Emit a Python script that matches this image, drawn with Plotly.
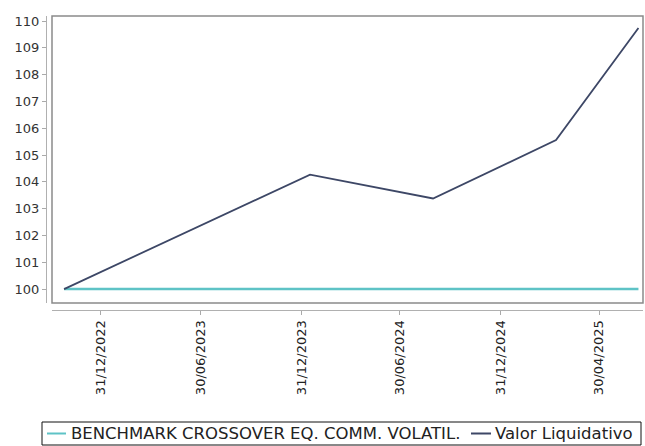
import plotly.graph_objects as go

# Data (x positions are period indices)
period_x = [0.0, 1.0, 2.0, 3.0, 4.0, 4.67]
valor_liquidativo = [100.0, 102.15, 104.27, 103.38, 105.56, 109.74]
benchmark = [100.0, 100.0, 100.0, 100.0, 100.0, 100.0]

tick_pos = [0.30, 1.11, 1.93, 2.73, 3.55, 4.35]
tick_labels = ["31/12/2022", "30/06/2023", "31/12/2023", "30/06/2024", "31/12/2024", "30/04/2025"]
y_ticks = list(range(100, 111))

series_names = ["BENCHMARK CROSSOVER EQ. COMM. VOLATIL.", "Valor Liquidativo"]
series_colors = ["#5ec3c6", "#3d4766"]

FONT = "DejaVu Sans"
W, H = 645, 446
L, R, T, B = 46, 2, 16, 136
plot_w = W - L - R
plot_h = H - T - B


def px_x(p):
    return (p - L) / plot_w


def px_y(p):
    return (H - B - p) / plot_h


fig = go.Figure()
fig.add_trace(go.Scatter(
    x=period_x, y=benchmark, mode="lines", name=series_names[0],
    line=dict(color=series_colors[0], width=2.5), showlegend=False,
))
fig.add_trace(go.Scatter(
    x=period_x, y=valor_liquidativo, mode="lines", name=series_names[1],
    line=dict(color=series_colors[1], width=1.8), showlegend=False,
))

# manual legend (box, sample lines, labels)
leg_top, leg_bot = 422, 445
leg_mid = (leg_top + leg_bot) / 2
shapes = [
    dict(type="rect", xref="x domain", yref="y domain", x0=0, x1=1, y0=0, y1=1,
         line=dict(color="#8a8a8a", width=1.5), layer="above"),
    dict(type="rect", xref="paper", yref="paper",
         x0=px_x(42), x1=px_x(641), y0=px_y(leg_bot), y1=px_y(leg_top),
         line=dict(color="#111111", width=1), fillcolor="white"),
    dict(type="line", xref="paper", yref="paper",
         x0=px_x(47), x1=px_x(66), y0=px_y(leg_mid), y1=px_y(leg_mid),
         line=dict(color=series_colors[0], width=2)),
    dict(type="line", xref="paper", yref="paper",
         x0=px_x(471), x1=px_x(491), y0=px_y(leg_mid), y1=px_y(leg_mid),
         line=dict(color=series_colors[1], width=2)),
]
annotations = [
    dict(text=series_names[0], xref="paper", yref="paper", x=px_x(69), y=px_y(leg_mid),
         xanchor="left", yanchor="middle", showarrow=False,
         font=dict(family=FONT, size=16.5, color="#222222")),
    dict(text=series_names[1], xref="paper", yref="paper", x=px_x(493), y=px_y(leg_mid),
         xanchor="left", yanchor="middle", showarrow=False,
         font=dict(family=FONT, size=16.5, color="#222222")),
]

fig.update_layout(
    width=W, height=H,
    margin=dict(l=L, r=R, t=T, b=B, pad=0, autoexpand=False),
    paper_bgcolor="white", plot_bgcolor="white",
    font=dict(family=FONT, size=13, color="#333333"),
    showlegend=False,
    xaxis=dict(
        domain=[6 / plot_w, 1], anchor="free", position=0, automargin=False,
        range=[-0.098, 4.707], tickvals=tick_pos, ticktext=tick_labels,
        tickangle=-90, ticks="outside", ticklen=4, tickcolor="#aaaaaa",
        showline=True, linecolor="#b0b0b0", linewidth=1,
        showgrid=False, zeroline=False,
        tickfont=dict(family=FONT, size=13, color="#222222"),
    ),
    yaxis=dict(
        domain=[7 / plot_h, 1], anchor="free", position=0, automargin=False,
        range=[99.48, 110.19], tickvals=y_ticks,
        ticks="outside", ticklen=4, tickcolor="#aaaaaa",
        showline=True, linecolor="#b0b0b0", linewidth=1,
        showgrid=False, zeroline=False,
        tickfont=dict(family=FONT, size=13, color="#333333"),
    ),
    shapes=shapes,
    annotations=annotations,
)

fig.write_html("out.html", config={"displayModeBar": False},
               post_script="document.body.style.margin='0';")
